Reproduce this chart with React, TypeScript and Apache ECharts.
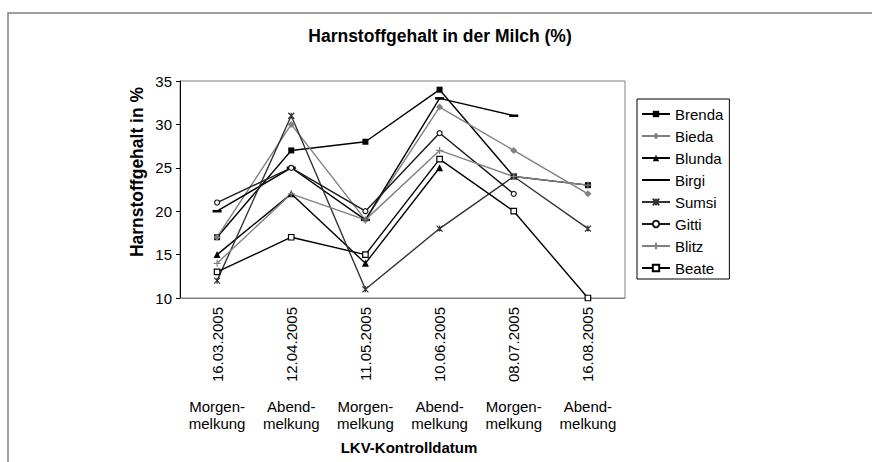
import React, { useEffect, useRef } from "react";
import * as echarts from "echarts";

const dates = ["16.03.2005", "12.04.2005", "11.05.2005", "10.06.2005", "08.07.2005", "16.08.2005"];
const milkings = ["Morgen-\nmelkung", "Abend-\nmelkung", "Morgen-\nmelkung", "Abend-\nmelkung", "Morgen-\nmelkung", "Abend-\nmelkung"];
const yTicks = { min: 10, max: 35, interval: 5 };

const brenda = [17, 27, 28, 34, 24, 23];
const bieda = [17, 30, 19, 32, 27, 22];
const blunda = [15, 22, 14, 25, null, null];
const birgi = [20, 25, 19, 33, 31, null];
const sumsi = [12, 31, 11, 18, 24, 18];
const gitti = [21, 25, 20, 29, 22, null];
const blitz = [14, 22, 19, 27, 24, 23];
const beate = [13, 17, 15, 26, 20, 10];

const FONT = "'Liberation Sans', Arial, sans-serif";

export default function App() {
  const ref = useRef<HTMLDivElement>(null);
  useEffect(() => {
    if (!ref.current) return;
    const chart = echarts.init(ref.current, null, { renderer: "svg" });

    const mk = (
      name: string,
      data: (number | null)[],
      color: string,
      symbol: string,
      symbolSize: number | number[],
      fill: string,
      border?: number
    ) => ({
      name,
      type: "line",
      data,
      xAxisIndex: 0,
      color,
      symbol,
      symbolSize,
      showSymbol: true,
      lineStyle: { color, width: 1.4 },
      itemStyle: { color: fill, borderColor: color, borderWidth: border ?? 0 },
      emphasis: { disabled: true },
    });

    const series = [
      mk("Brenda", brenda, "#000000", "rect", 6, "#000000"),
      mk("Bieda", bieda, "#808080", "diamond", 7, "#808080"),
      mk("Blunda", blunda, "#000000", "triangle", 7, "#000000"),
      mk("Birgi", birgi, "#000000", "path://M0,0 M0,3.6 L10,3.6 L10,6.4 L0,6.4 Z M10,10", 9, "#000000"),
      mk("Sumsi", sumsi, "#333333", "path://M0,0 L10,10 M10,0 L0,10 M5,0 L5,10", 6, "transparent", 1.2),
      mk("Gitti", gitti, "#1a1a1a", "circle", 5, "#ffffff", 1.2),
      mk("Blitz", blitz, "#808080", "path://M5,0 L5,10 M0,5 L10,5", 7, "transparent", 1.2),
      mk("Beate", beate, "#000000", "rect", 5.5, "#ffffff", 1.2),
    ];

    chart.setOption({
      animation: false,
      textStyle: { fontFamily: FONT },
      grid: {
        left: 180,
        top: 81,
        right: 247,
        bottom: 164,
        show: true,
        borderColor: "#808080",
        borderWidth: 1,
        containLabel: false,
      },
      legend: {
        orient: "vertical",
        left: 637,
        top: 99,
        itemWidth: 28,
        itemHeight: 8,
        itemGap: 6,
        padding: [7, 6, 3, 4],
        borderColor: "#000000",
        borderWidth: 1,
        textStyle: { fontSize: 15, lineHeight: 16, color: "#000", fontFamily: FONT },
        data: series.map((s) => s.name),
      },
      xAxis: [
        {
          type: "category",
          data: dates,
          boundaryGap: true,
          position: "bottom",
          axisLine: { show: true, lineStyle: { color: "#808080", width: 1 } },
          axisTick: { show: false },
          axisLabel: { rotate: 90, margin: 9, fontSize: 15, color: "#000", fontFamily: FONT, interval: 0 },
        },
        {
          type: "category",
          data: milkings,
          boundaryGap: true,
          position: "bottom",
          axisLine: { show: false },
          axisTick: { show: false },
          axisLabel: { margin: 100, fontSize: 15, lineHeight: 17, color: "#000", fontFamily: FONT, interval: 0 },
        },
      ],
      yAxis: {
        type: "value",
        min: yTicks.min,
        max: yTicks.max,
        interval: yTicks.interval,
        axisLine: { show: true, lineStyle: { color: "#000", width: 1 } },
        axisTick: { show: true, length: 4, lineStyle: { color: "#000" } },
        splitLine: { show: false },
        axisLabel: { margin: 8, fontSize: 15, color: "#000", fontFamily: FONT },
      },
      graphic: [
        {
          type: "rect",
          shape: { x: 8, y: 13, width: 900, height: 500 },
          style: { fill: "none", stroke: "#808080", lineWidth: 1.5 },
          silent: true,
          z: -10,
        },
        {
          type: "text",
          x: 440,
          y: 36,
          style: {
            text: "Harnstoffgehalt in der Milch (%)",
            font: `bold 17.5px ${FONT}`,
            fill: "#000",
            textAlign: "center",
            textVerticalAlign: "middle",
          },
        },
        {
          type: "text",
          x: 137,
          y: 172,
          rotation: Math.PI / 2,
          style: {
            text: "Harnstoffgehalt in %",
            font: `bold 17.5px ${FONT}`,
            fill: "#000",
            textAlign: "center",
            textVerticalAlign: "middle",
          },
        },
        {
          type: "text",
          x: 409,
          y: 447,
          style: {
            text: "LKV-Kontrolldatum",
            font: `bold 15px ${FONT}`,
            fill: "#000",
            textAlign: "center",
            textVerticalAlign: "middle",
          },
        },
      ],
      series,
    });

    return () => chart.dispose();
  }, []);

  return (
    <div
      ref={ref}
      style={{ position: "fixed", left: 0, top: 0, width: 872, height: 462, background: "#fff" }}
    />
  );
}
